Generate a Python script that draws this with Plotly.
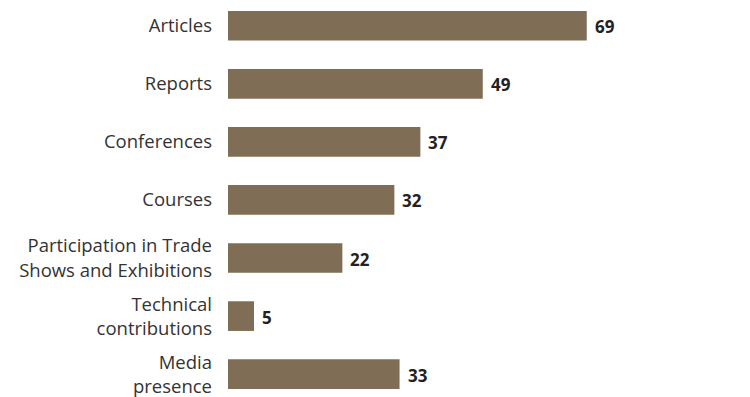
import plotly.graph_objects as go

categories = ["Articles", "Reports", "Conferences", "Courses",
              "Participation in Trade<br>Shows and Exhibitions",
              "Technical<br>contributions", "Media<br>presence"]
values = [69, 49, 37, 32, 22, 5, 33]

bar_color = "#7f6e55"

fig = go.Figure(go.Bar(
    y=list(range(len(categories))),
    x=values,
    orientation="h",
    marker=dict(color=bar_color, line=dict(width=0)),
    width=0.511,
    hoverinfo="skip",
))

for i, v in enumerate(values):
    fig.add_annotation(
        x=v, y=i, xref="x", yref="y",
        text=f"<b>{v}</b>", showarrow=False,
        xanchor="left", yanchor="middle", xshift=6, yshift=-1,
        font=dict(family="Open Sans", size=17, color="#222222"),
    )

fig.update_layout(
    width=750, height=397,
    margin=dict(l=228, r=0, t=0, b=0),
    paper_bgcolor="white", plot_bgcolor="white",
    showlegend=False,
    xaxis=dict(range=[0, 100.4], visible=False),
    yaxis=dict(
        range=[6.324, -0.443],
        tickmode="array",
        tickvals=list(range(len(categories))),
        ticktext=categories,
        showgrid=False, zeroline=False, showline=False,
        ticks="", ticklabelstandoff=15,
        ticklabeloverflow="allow",
        tickfont=dict(family="Open Sans", size=18.5, color="#333333"),
    ),
)

fig.write_html("out.html")
